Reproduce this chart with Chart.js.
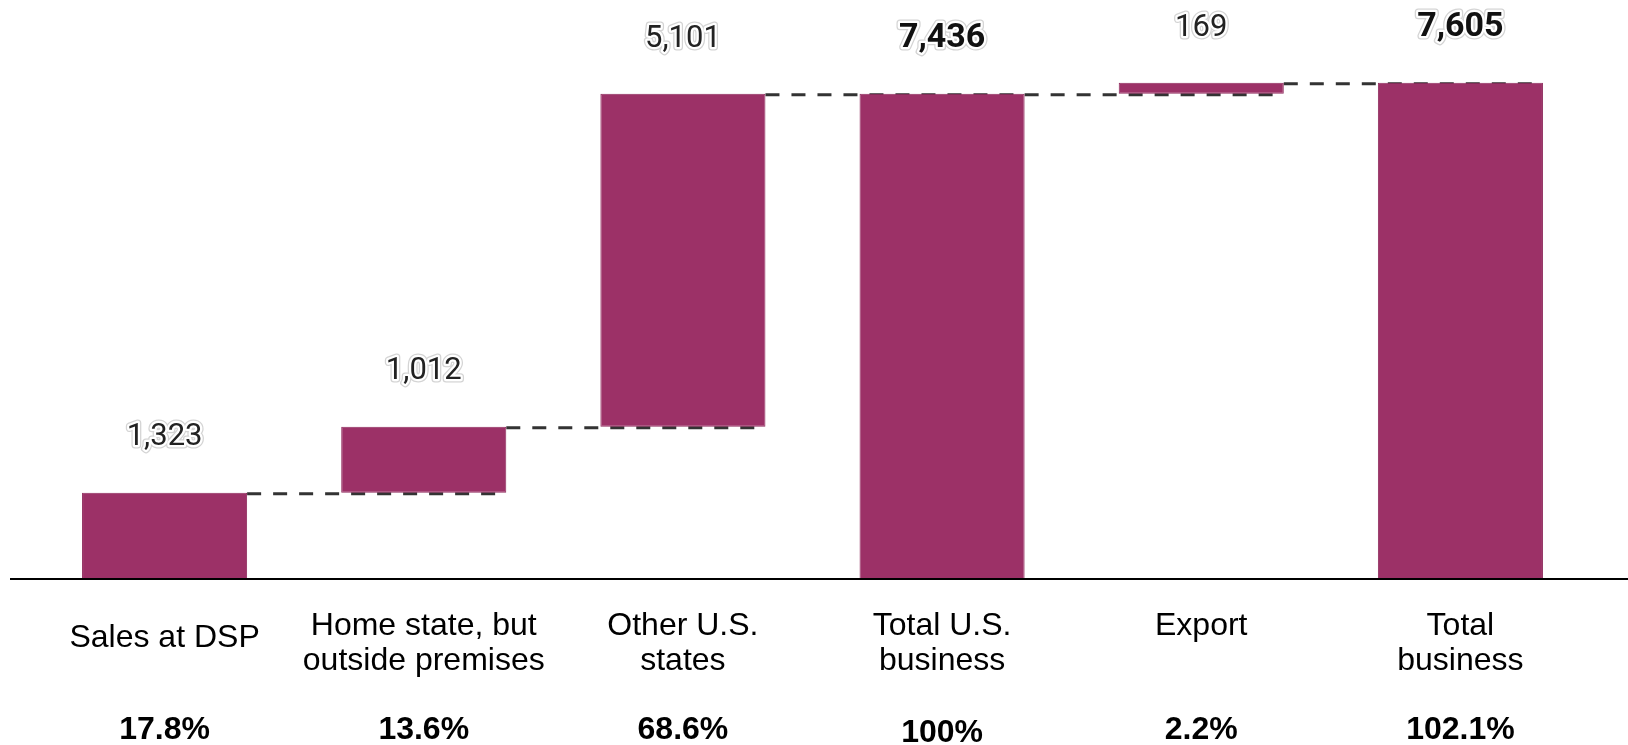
<!DOCTYPE html>
<html><head><meta charset="utf-8">
<script src="https://cdn.jsdelivr.net/npm/chart.js@4/dist/chart.umd.min.js"></script>
<style>html,body{margin:0;padding:0;background:#fff;}canvas{display:block}</style>
</head><body>
<canvas id="c" width="1628" height="745"></canvas>
<script>
// ---- data ----
const categories = [["Sales at DSP"], ["Home state, but", "outside premises"], ["Other U.S.", "states"], ["Total U.S.", "business"], ["Export", ""], ["Total", "business"]];
const values = [1323, 1012, 5101, 7436, 169, 7605];
const isTotal = [false, false, false, true, false, true];
const valueLabels = ["1,323", "1,012", "5,101", "7,436", "169", "7,605"];
const shareLabels = ["17.8%", "13.6%", "68.6%", "100%", "2.2%", "102.1%"];
const yMin = 0, yMax = 8000;

// floating ranges built from the values (waterfall)
let running = 0;
const ranges = values.map((v, i) => {
  if (isTotal[i]) { running = v; return [0, v]; }
  const r = [running, running + v]; running += v; return r;
});

const BAR = '#9c3167';

const waterfallPlugin = {
  id: 'waterfall',
  beforeDatasetsDraw(chart) {
    const ctx = chart.ctx, meta = chart.getDatasetMeta(0), y = chart.scales.y;
    ctx.save();
    ctx.strokeStyle = '#333333';
    ctx.lineWidth = 3;
    ctx.setLineDash([14, 12]);
    for (let i = 0; i < ranges.length - 1; i++) {
      const a = meta.data[i], b = meta.data[i + 1];
      const level = ranges[i][1];
      const yy = y.getPixelForValue(level) + 1;
      ctx.beginPath();
      ctx.moveTo(a.x + a.width / 2, yy);
      ctx.lineTo(b.x + b.width / 2, yy);
      ctx.stroke();
    }
    ctx.restore();
  },
  afterDatasetsDraw(chart) {
    const ctx = chart.ctx, meta = chart.getDatasetMeta(0), y = chart.scales.y, x = chart.scales.x;
    ctx.save();
    // baseline axis line across the full width
    const by = y.getPixelForValue(0);
    ctx.strokeStyle = '#000';
    ctx.lineWidth = 2;
    ctx.beginPath(); ctx.moveTo(10, by); ctx.lineTo(chart.width, by); ctx.stroke();

    ctx.textAlign = 'center';
    ctx.textBaseline = 'middle';
    ctx.lineJoin = 'round';
    // value labels
    meta.data.forEach((bar, i) => {
      const top = y.getPixelForValue(ranges[i][1]);
      const ty = top - 55;
      ctx.font = (isTotal[i] ? 'bold 34px' : '31px') + ' Roboto';
      ctx.strokeStyle = '#d4d4d4'; ctx.lineWidth = 7;
      ctx.strokeText(valueLabels[i], bar.x, ty);
      ctx.strokeStyle = '#ffffff'; ctx.lineWidth = 4.5;
      ctx.strokeText(valueLabels[i], bar.x, ty);
      ctx.fillStyle = isTotal[i] ? '#111' : '#222';
      ctx.fillText(valueLabels[i], bar.x, ty);
    });
    // category labels and shares
    categories.forEach((lines, i) => {
      const cx = x.getPixelForValue(i);
      ctx.fillStyle = '#000';
      ctx.font = '32px "Liberation Sans", Arial, sans-serif';
      if (lines.length === 1) {
        ctx.fillText(lines[0], cx, 638);
      } else {
        ctx.fillText(lines[0], cx, 626);
        ctx.fillText(lines[1], cx, 661);
      }
      ctx.font = 'bold 32px "Liberation Sans", Arial, sans-serif';
      ctx.fillText(shareLabels[i], cx, shareLabels[i] === "100%" ? 733 : 730);
    });
    ctx.restore();
  }
};

new Chart(document.getElementById('c'), {
  type: 'bar',
  data: {
    labels: categories,
    datasets: [{
      data: ranges,
      backgroundColor: BAR,
      borderColor: '#8e2a5c',
      borderWidth: 1,
      borderSkipped: false,
      categoryPercentage: 1.0,
      barPercentage: 0.637
    }]
  },
  options: {
    responsive: false,
    animation: false,
    layout: { padding: { left: 35, right: 38, top: 57, bottom: 166 } },
    plugins: { legend: { display: false }, tooltip: { enabled: false } },
    scales: {
      x: { display: false },
      y: { display: false, min: yMin, max: yMax }
    }
  },
  plugins: [waterfallPlugin]
});
</script>
</body></html>
